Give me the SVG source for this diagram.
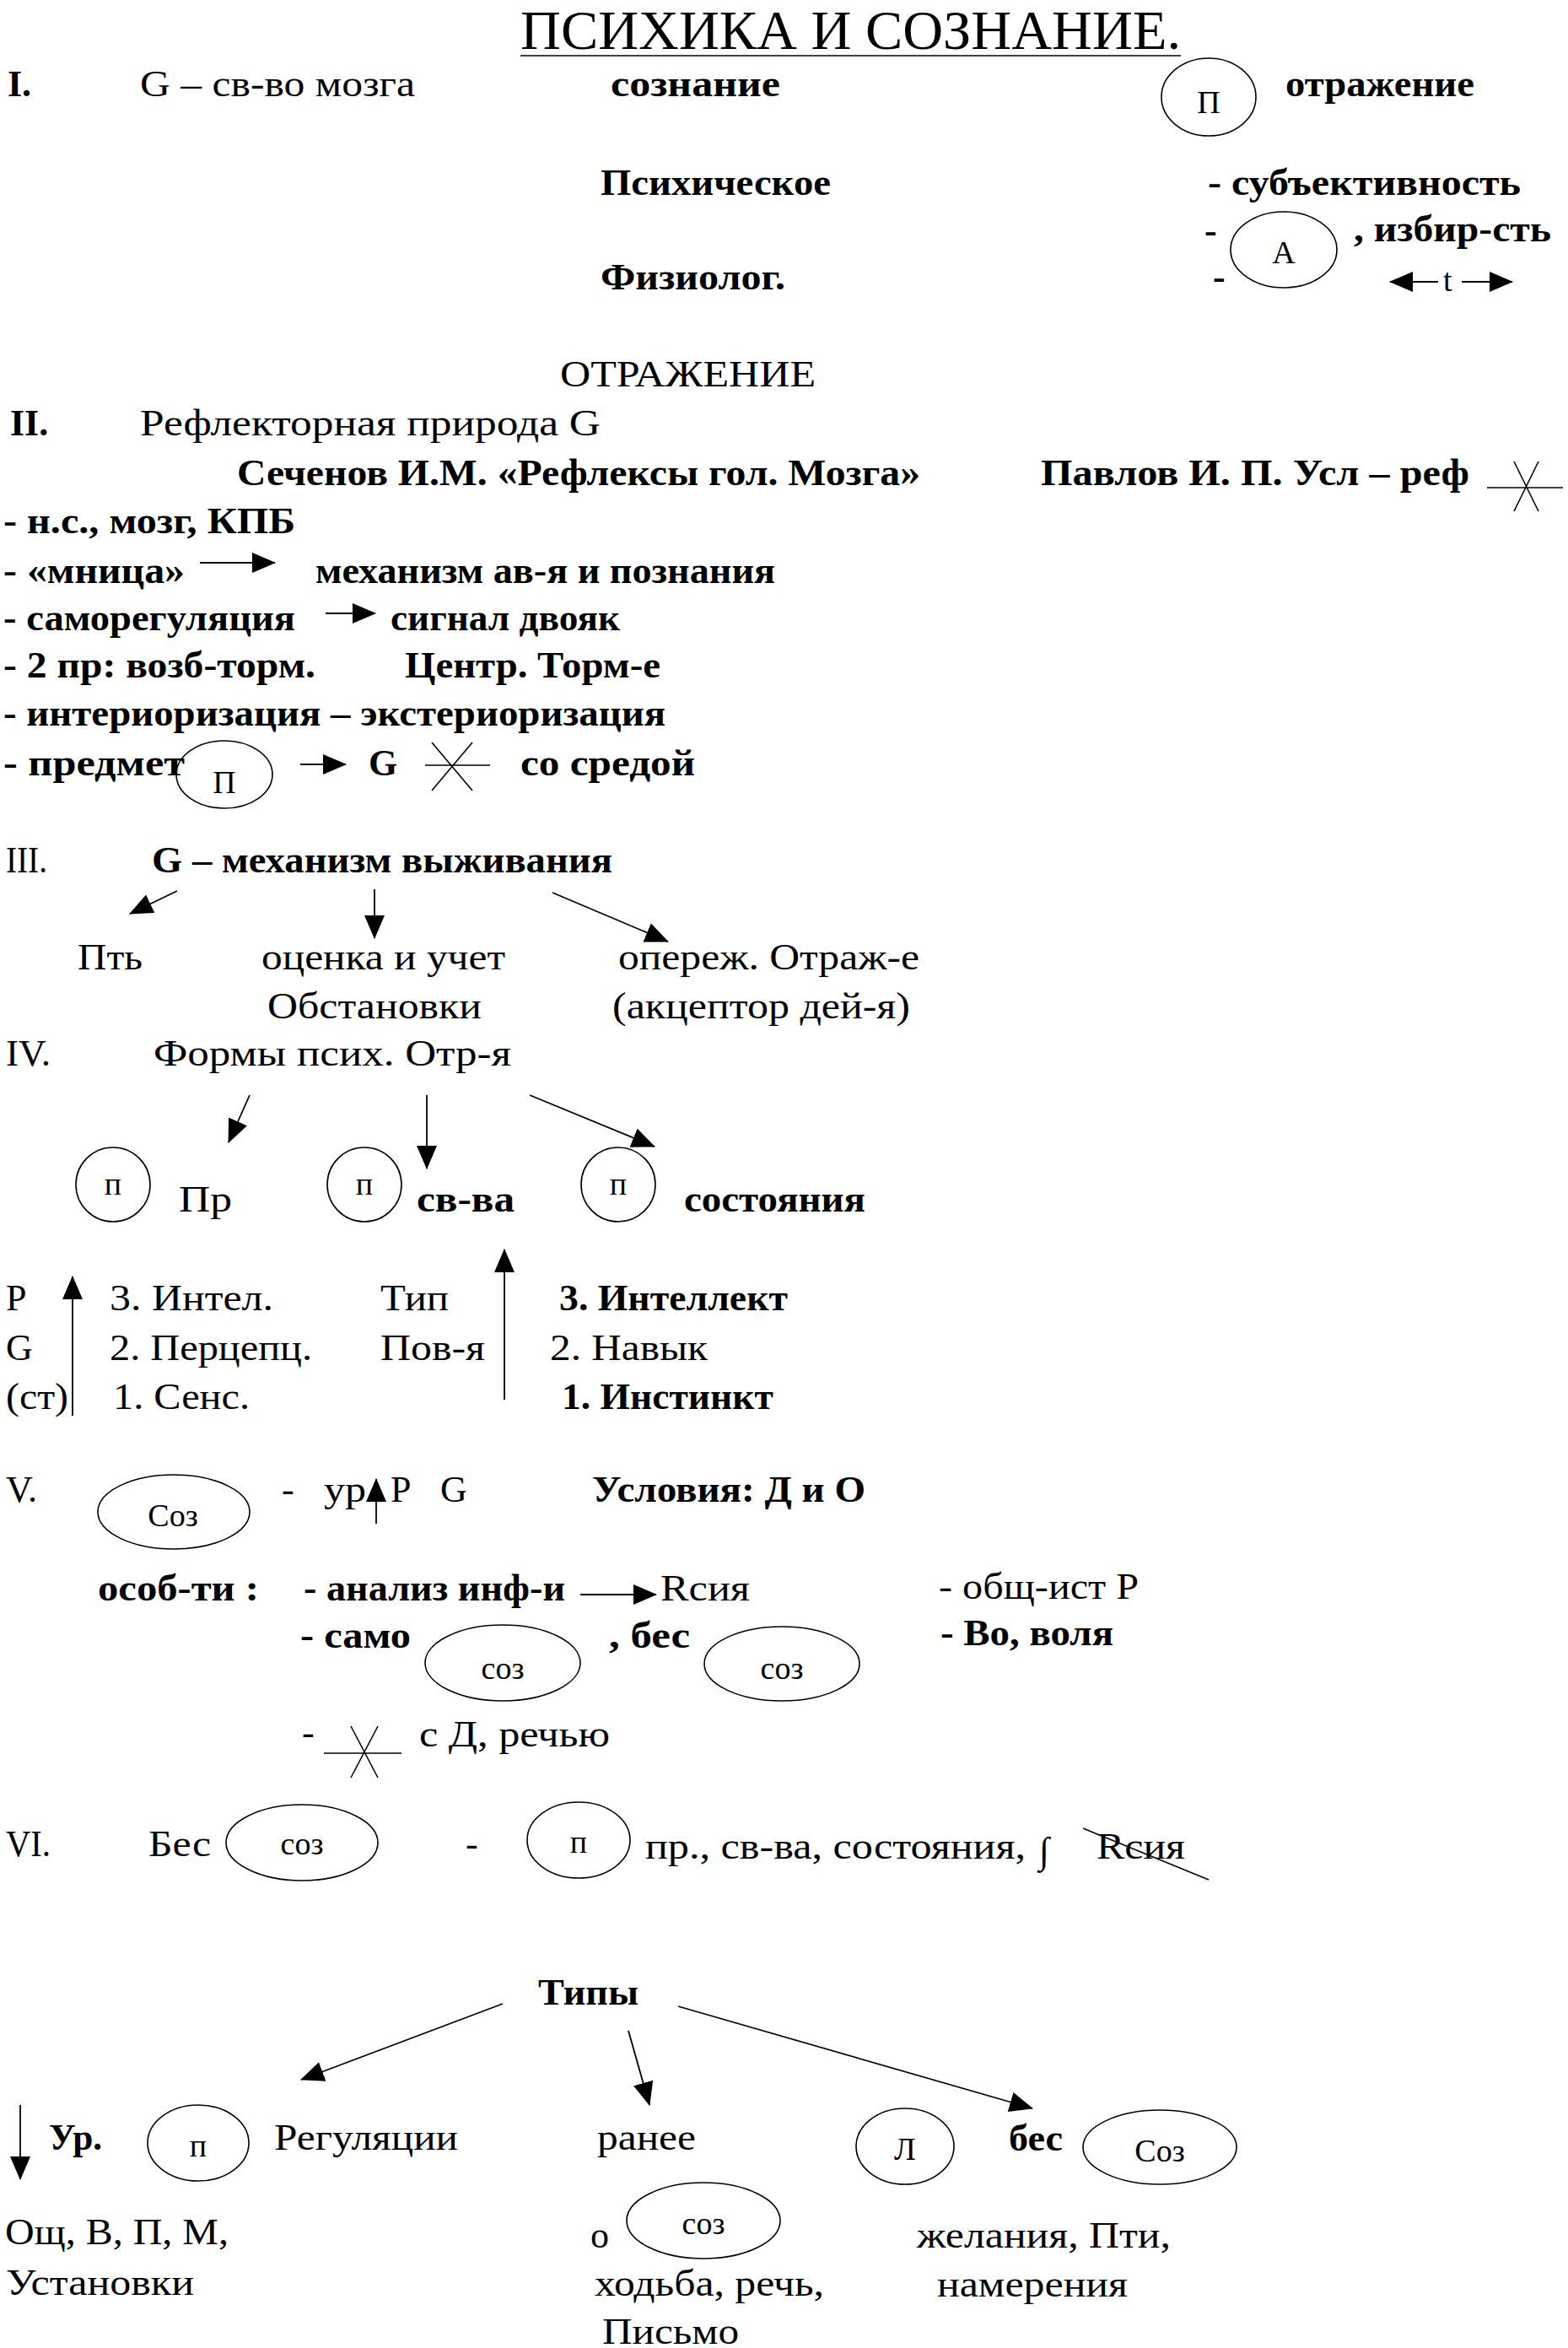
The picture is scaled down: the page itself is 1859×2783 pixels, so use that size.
<svg xmlns="http://www.w3.org/2000/svg" width="1859" height="2783" viewBox="0 0 1859 2783">
<style>
text{font-family:"Liberation Serif","Times New Roman",serif;font-size:44px;fill:#000}
.b{font-weight:bold}
.t{font-size:65px}
.s{font-size:38px}
.c{text-anchor:middle;font-size:38px}
.sh{fill:none;stroke:#000;stroke-width:1.6}
.ln{fill:none;stroke:#000;stroke-width:1.6}
.ar{fill:none;stroke:#000;stroke-width:1.8;marker-end:url(#ah)}
</style>
<defs>
<marker id="ah" markerUnits="userSpaceOnUse" markerWidth="30" markerHeight="26" refX="27" refY="12" orient="auto">
<path d="M0,0 L28,12 L0,24 Z" fill="#000"/>
</marker>
</defs>
<rect width="1859" height="2783" fill="#fff"/>

<g id="title">
<text class="t" x="617" y="58" textLength="783" lengthAdjust="spacingAndGlyphs">ПСИХИКА И СОЗНАНИЕ.</text>
<line class="ln" x1="617" y1="66" x2="1400" y2="66" stroke-width="3"/>
</g>

<g id="sec1">
<text class="b" x="9" y="114">I.</text>
<text x="166" y="114" textLength="326" lengthAdjust="spacingAndGlyphs">G – св-во мозга</text>
<text class="b" x="724" y="114" textLength="201" lengthAdjust="spacingAndGlyphs">сознание</text>
<g id="n-P1"><ellipse class="sh" cx="1433" cy="115" rx="56" ry="46"/><text class="c" x="1433" y="134">П</text></g>
<text class="b" x="1524" y="114" textLength="224" lengthAdjust="spacingAndGlyphs">отражение</text>
<text class="b" x="712" y="231" textLength="273" lengthAdjust="spacingAndGlyphs">Психическое</text>
<text class="b" x="1432" y="231" textLength="371" lengthAdjust="spacingAndGlyphs">- субъективность</text>
<text class="b" x="1428" y="288">-</text>
<g id="n-A"><ellipse class="sh" cx="1522" cy="296" rx="63" ry="45"/><text class="c" x="1522" y="312">А</text></g>
<text class="b" x="1605" y="286" textLength="234" lengthAdjust="spacingAndGlyphs">, избир-сть</text>
<text class="b" x="712" y="343" textLength="219" lengthAdjust="spacingAndGlyphs">Физиолог.</text>
<text class="b" x="1438" y="343">-</text>
<g id="n-t">
<line class="ar" x1="1705" y1="334" x2="1648" y2="334"/>
<text class="s" x="1711" y="345">t</text>
<line class="ar" x1="1733" y1="334" x2="1793" y2="334"/>
</g>
</g>

<g id="sec2">
<text x="664" y="458" font-size="42" textLength="303" lengthAdjust="spacingAndGlyphs">ОТРАЖЕНИЕ</text>
<text class="b" x="12" y="516">II.</text>
<text x="166" y="516" textLength="546" lengthAdjust="spacingAndGlyphs">Рефлекторная  природа G</text>
<text class="b" x="281" y="575" textLength="810" lengthAdjust="spacingAndGlyphs">Сеченов И.М.  «Рефлексы гол. Мозга»</text>
<text class="b" x="1234" y="575" textLength="508" lengthAdjust="spacingAndGlyphs">Павлов  И. П. Усл – реф</text>
<g id="cross1">
<line class="ln" x1="1763" y1="578" x2="1853" y2="578"/>
<line class="ln" x1="1795" y1="547" x2="1824" y2="606"/>
<line class="ln" x1="1824" y1="547" x2="1795" y2="606"/>
</g>
<text class="b" x="4" y="632" textLength="346" lengthAdjust="spacingAndGlyphs">- н.с., мозг, КПБ</text>
<text class="b" x="4" y="691" textLength="215" lengthAdjust="spacingAndGlyphs">- «мница»</text>
<text class="b" x="374" y="691" textLength="545" lengthAdjust="spacingAndGlyphs">механизм ав-я и познания</text>
<text class="b" x="4" y="747" textLength="346" lengthAdjust="spacingAndGlyphs">- саморегуляция</text>
<text class="b" x="463" y="747" textLength="272" lengthAdjust="spacingAndGlyphs">сигнал двояк</text>
<text class="b" x="4" y="803" textLength="370" lengthAdjust="spacingAndGlyphs">- 2 пр: возб-торм.</text>
<text class="b" x="480" y="803" textLength="303" lengthAdjust="spacingAndGlyphs">Центр. Торм-е</text>
<text class="b" x="4" y="860" textLength="785" lengthAdjust="spacingAndGlyphs">- интериоризация – экстериоризация</text>
<text class="b" x="4" y="919" textLength="215" lengthAdjust="spacingAndGlyphs">- предмет</text>
<g id="n-P2"><ellipse class="sh" cx="266" cy="918" rx="57" ry="40"/><text class="c" x="266" y="940">П</text></g>
<text class="b" x="437" y="919">G</text>
<g id="cross2">
<line class="ln" x1="504" y1="907" x2="581" y2="907"/>
<line class="ln" x1="512" y1="880" x2="560" y2="937"/>
<line class="ln" x1="560" y1="880" x2="512" y2="937"/>
</g>
<text class="b" x="617" y="919" textLength="207" lengthAdjust="spacingAndGlyphs">со средой</text>
</g>

<g id="sec3">
<text x="7" y="1034" textLength="49" lengthAdjust="spacingAndGlyphs">III.</text>
<text class="b" x="180" y="1034" textLength="546" lengthAdjust="spacingAndGlyphs">G – механизм выживания</text>
<text x="92" y="1149" textLength="77" lengthAdjust="spacingAndGlyphs">Пть</text>
<text x="310" y="1149" textLength="289" lengthAdjust="spacingAndGlyphs">оценка и учет</text>
<text x="733" y="1149" textLength="357" lengthAdjust="spacingAndGlyphs">опереж. Отраж-е</text>
<text x="317" y="1207" textLength="254" lengthAdjust="spacingAndGlyphs">Обстановки</text>
<text x="726" y="1207" textLength="353" lengthAdjust="spacingAndGlyphs">(акцептор дей-я)</text>
</g>

<g id="sec4">
<text x="7" y="1263" textLength="53" lengthAdjust="spacingAndGlyphs">IV.</text>
<text x="182" y="1263" textLength="424" lengthAdjust="spacingAndGlyphs">Формы  псих. Отр-я</text>
<g id="n-p1"><ellipse class="sh" cx="134" cy="1404" rx="44" ry="44"/><text class="c" x="134" y="1416" font-size="34">п</text></g>
<text x="212" y="1436" textLength="63" lengthAdjust="spacingAndGlyphs">Пр</text>
<g id="n-p2"><ellipse class="sh" cx="432" cy="1404" rx="44" ry="44"/><text class="c" x="432" y="1416" font-size="34">п</text></g>
<text class="b" x="494" y="1436" textLength="116" lengthAdjust="spacingAndGlyphs">св-ва</text>
<g id="n-p3"><ellipse class="sh" cx="733" cy="1404" rx="44" ry="44"/><text class="c" x="733" y="1416" font-size="34">п</text></g>
<text class="b" x="811" y="1436" textLength="215" lengthAdjust="spacingAndGlyphs">состояния</text>
<text x="7" y="1553">Р</text>
<text x="130" y="1553" textLength="194" lengthAdjust="spacingAndGlyphs">3. Интел.</text>
<text x="451" y="1553" textLength="81" lengthAdjust="spacingAndGlyphs">Тип</text>
<text class="b" x="663" y="1553" textLength="271" lengthAdjust="spacingAndGlyphs">3. Интеллект</text>
<text x="7" y="1612">G</text>
<text x="130" y="1612" textLength="240" lengthAdjust="spacingAndGlyphs">2. Перцепц.</text>
<text x="451" y="1612" textLength="124" lengthAdjust="spacingAndGlyphs">Пов-я</text>
<text x="652" y="1612" textLength="187" lengthAdjust="spacingAndGlyphs">2. Навык</text>
<text x="7" y="1670" textLength="74" lengthAdjust="spacingAndGlyphs">(ст)</text>
<text x="134" y="1670" textLength="162" lengthAdjust="spacingAndGlyphs">1. Сенс.</text>
<text class="b" x="666" y="1670" textLength="251" lengthAdjust="spacingAndGlyphs">1. Инстинкт</text>
</g>

<g id="sec5">
<text x="7" y="1780">V.</text>
<g id="n-Soz1"><ellipse class="sh" cx="206" cy="1792" rx="90" ry="44"/><text class="c" x="205" y="1809">Соз</text></g>
<text x="334" y="1780">-</text>
<text x="384" y="1780" textLength="50" lengthAdjust="spacingAndGlyphs">ур</text>
<text x="463" y="1780">Р</text>
<text x="522" y="1780">G</text>
<text class="b" x="702" y="1780" textLength="324" lengthAdjust="spacingAndGlyphs">Условия: Д и О</text>
<text class="b" x="116" y="1897" textLength="191" lengthAdjust="spacingAndGlyphs">особ-ти :</text>
<text class="b" x="360" y="1897" textLength="310" lengthAdjust="spacingAndGlyphs">- анализ инф-и</text>
<text x="783" y="1897" textLength="106" lengthAdjust="spacingAndGlyphs">Rсия</text>
<text x="1113" y="1895" textLength="237" lengthAdjust="spacingAndGlyphs">- общ-ист Р</text>
<text class="b" x="356" y="1953" textLength="131" lengthAdjust="spacingAndGlyphs">- само</text>
<g id="n-soz2"><ellipse class="sh" cx="596" cy="1971" rx="92" ry="45"/><text class="c" x="596" y="1990">соз</text></g>
<text class="b" x="722" y="1953" textLength="96" lengthAdjust="spacingAndGlyphs">, бес</text>
<g id="n-soz3"><ellipse class="sh" cx="927" cy="1972" rx="92" ry="44"/><text class="c" x="927" y="1990">соз</text></g>
<text class="b" x="1115" y="1950" textLength="205" lengthAdjust="spacingAndGlyphs">- Во, воля</text>
<text x="358" y="2068">-</text>
<g id="cross3">
<line class="ln" x1="384" y1="2078" x2="476" y2="2078"/>
<line class="ln" x1="416" y1="2046" x2="448" y2="2107"/>
<line class="ln" x1="448" y1="2046" x2="416" y2="2107"/>
</g>
<text x="497" y="2070" textLength="226" lengthAdjust="spacingAndGlyphs">с Д, речью</text>
</g>

<g id="sec6">
<text x="7" y="2200" textLength="53" lengthAdjust="spacingAndGlyphs">VI.</text>
<text x="176" y="2200" textLength="74" lengthAdjust="spacingAndGlyphs">Бес</text>
<g id="n-soz4"><ellipse class="sh" cx="358" cy="2184" rx="90" ry="45"/><text class="c" x="358" y="2198">соз</text></g>
<text x="552" y="2200">-</text>
<g id="n-p4"><ellipse class="sh" cx="686" cy="2181" rx="61" ry="45"/><text class="c" x="686" y="2196">п</text></g>
<text x="765" y="2203" textLength="451" lengthAdjust="spacingAndGlyphs">пр., св-ва, состояния,</text>
<text x="1232" y="2208" font-size="52">∫</text>
<text x="1300" y="2203" textLength="105" lengthAdjust="spacingAndGlyphs">Rсия</text>
<line class="ln" x1="1284" y1="2167" x2="1433" y2="2228"/>
</g>

<g id="types">
<text class="b" x="638" y="2376" textLength="119" lengthAdjust="spacingAndGlyphs">Типы</text>
<text class="b" x="58" y="2548" textLength="63" lengthAdjust="spacingAndGlyphs">Ур.</text>
<g id="n-p5"><ellipse class="sh" cx="235" cy="2540" rx="60" ry="45"/><text class="c" x="235" y="2556" font-size="34">п</text></g>
<text x="325" y="2548" textLength="218" lengthAdjust="spacingAndGlyphs">Регуляции</text>
<text x="708" y="2548" textLength="117" lengthAdjust="spacingAndGlyphs">ранее</text>
<g id="n-L"><ellipse class="sh" cx="1073" cy="2544" rx="58" ry="45"/><text class="c" x="1073" y="2560">Л</text></g>
<text class="b" x="1196" y="2549" textLength="64" lengthAdjust="spacingAndGlyphs">бес</text>
<g id="n-Soz5"><ellipse class="sh" cx="1375" cy="2545" rx="91" ry="44"/><text class="c" x="1375" y="2562">Соз</text></g>
<text x="6" y="2660" textLength="265" lengthAdjust="spacingAndGlyphs">Ощ, В, П, М,</text>
<text x="7" y="2720" textLength="223" lengthAdjust="spacingAndGlyphs">Установки</text>
<text x="700" y="2664">о</text>
<g id="n-soz6"><ellipse class="sh" cx="834" cy="2632" rx="91" ry="45"/><text class="c" x="834" y="2648">соз</text></g>
<text x="1087" y="2664" textLength="301" lengthAdjust="spacingAndGlyphs">желания, Пти,</text>
<text x="705" y="2721" textLength="272" lengthAdjust="spacingAndGlyphs">ходьба, речь,</text>
<text x="1111" y="2722" textLength="226" lengthAdjust="spacingAndGlyphs">намерения</text>
<text x="714" y="2778" textLength="162" lengthAdjust="spacingAndGlyphs">Письмо</text>
</g>

<g id="connectors">
<line class="ar" x1="237" y1="667" x2="326" y2="667"/>
<line class="ar" x1="386" y1="727" x2="445" y2="727"/>
<line class="ar" x1="356" y1="906" x2="410" y2="906"/>
<line class="ar" x1="210" y1="1056" x2="154" y2="1083"/>
<line class="ar" x1="444" y1="1054" x2="444" y2="1112"/>
<line class="ar" x1="655" y1="1058" x2="792" y2="1116"/>
<line class="ar" x1="296" y1="1298" x2="271" y2="1354"/>
<line class="ar" x1="506" y1="1298" x2="506" y2="1385"/>
<line class="ar" x1="628" y1="1298" x2="776" y2="1359"/>
<line class="ar" x1="86" y1="1678" x2="86" y2="1513"/>
<line class="ar" x1="598" y1="1659" x2="598" y2="1481"/>
<line class="ar" x1="446" y1="1806" x2="446" y2="1753"/>
<line class="ar" x1="688" y1="1890" x2="778" y2="1890"/>
<line class="ar" x1="596" y1="2375" x2="357" y2="2465"/>
<line class="ar" x1="745" y1="2407" x2="770" y2="2495"/>
<line class="ar" x1="804" y1="2378" x2="1224" y2="2499"/>
<line class="ar" x1="24" y1="2495" x2="24" y2="2583"/>
</g>
</svg>
